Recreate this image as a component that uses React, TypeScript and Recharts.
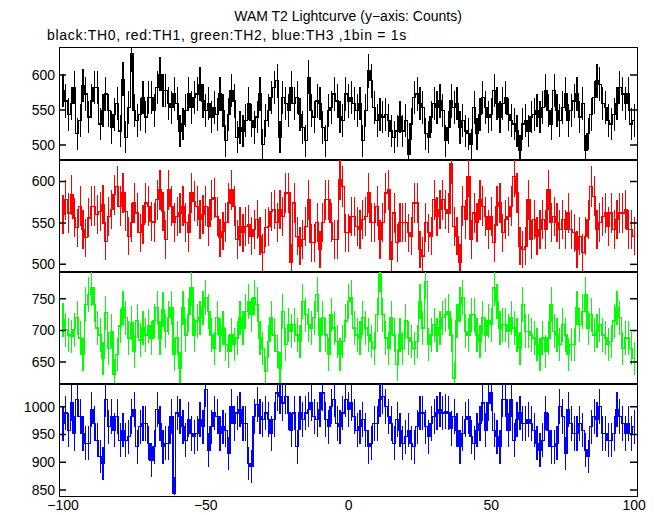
import React from 'react';
import { LineChart, Line, XAxis, YAxis, ErrorBar } from 'recharts';

// counts per 1s bin, t = -100 .. 100
const TH0 = [
  578, 563, 544, 559, 582, 516, 535, 585, 573, 540, 563, 582, 582, 530, 549, 573, 549, 525, 544, 559,
  520, 594, 511, 554, 630, 549, 535, 544, 568, 540, 568, 568, 549, 582, 601, 578, 578, 559, 554, 573,
  559, 520, 530, 549, 573, 554, 568, 573, 587, 563, 549, 559, 540, 554, 544, 573, 549, 506, 544, 578,
  563, 511, 525, 520, 535, 559,
  535, 525, 540, 573, 501, 535, 549, 568, 582, 592, 511, 568, 559, 549, 582, 559, 568, 544, 525, 506,
  597, 549, 540, 563, 559, 525, 506, 549, 554, 573, 563, 540, 535, 573, 563, 568, 559, 549, 559, 506,
  549, 606, 592, 554, 535, 544, 540, 544, 535, 520, 511, 520, 540, 520, 535, 487, 530, 568, 573, 559,
  554, 516, 511, 540, 559, 554, 563, 549,
  506, 525, 563, 554, 559, 525, 535, 520, 516, 501, 554, 516, 544, 568, 554, 540, 544, 578, 559, 540,
  559, 568, 544, 535, 530, 520, 492, 530, 535, 520, 540, 544, 549, 540, 554, 578, 549, 530, 578, 549,
  535, 554, 573, 535, 549, 563, 573, 540, 559, 492, 516, 544, 568, 592, 587, 559, 554, 535, 530, 544,
  559, 582, 573, 559, 573, 530, 535,
];

const TH1 = [
  560, 578, 562, 584, 556, 544, 570, 542, 532, 556, 570, 570, 560, 564, 572, 528, 558, 566, 584, 594,
  570, 586, 564, 534, 550, 574, 562, 538, 548, 574, 570, 552, 550, 578, 590, 564, 530, 590, 570, 550,
  558, 562, 570, 550, 538, 586, 576, 570, 554, 560, 570, 546, 578, 580, 558, 532, 540, 550, 574, 590,
  570, 530, 546, 538, 546, 548, 534,
  542, 554, 534, 514, 544, 546, 564, 566, 550, 566, 558, 586, 586, 502, 574, 534, 522, 530, 546, 578,
  526, 526, 550, 518, 550, 578, 578, 550, 530, 530, 602, 594, 538, 538, 558, 558, 546, 542, 554, 558,
  586, 550, 550, 570, 530, 550, 586, 590, 506, 562, 526, 550, 550, 550, 538, 534, 574, 574, 518, 510,
  550, 538, 534, 578, 558, 566, 578,
  566, 562, 622, 546, 534, 502, 570, 554, 606, 530, 562, 550, 578, 570, 558, 542, 558, 526, 570, 574,
  538, 554, 558, 570, 606, 586, 522, 518, 522, 578, 530, 554, 534, 542, 554, 542, 590, 550, 558, 550,
  542, 554, 542, 562, 542, 538, 518, 534, 514, 534, 554, 594, 582, 542, 550, 558, 562, 546, 562, 542,
  554, 562, 562, 566, 542, 542, 534,
];

const TH2 = [
  717, 701, 693, 691, 701, 720, 688, 662, 741, 757, 767, 741, 704, 693, 656, 728, 672, 699, 630, 662,
  707, 736, 720, 688, 712, 667, 715, 685, 704, 693, 707, 688, 715, 736, 688, 733, 699, 720, 736, 662,
  688, 640, 736, 693, 725, 767, 693, 715, 720, 736, 752, 730, 693, 672, 720, 693, 704, 678, 667, 693,
  678, 688, 720, 704, 730, 746, 725,
  752, 741, 688, 672, 635, 683, 720, 693, 667, 640, 730, 678, 709, 699, 709, 693, 683, 746, 725, 709,
  704, 720, 757, 693, 720, 693, 662, 725, 704, 683, 662, 683, 715, 746, 752, 704, 693, 688, 720, 704,
  693, 683, 672, 725, 789, 725, 688, 672, 720, 693, 646, 693, 672, 715, 688, 683, 672, 683, 746, 704,
  778, 678, 693, 709, 693, 704, 720,
  725, 730, 693, 625, 715, 741, 752, 699, 693, 725, 725, 693, 683, 720, 693, 715, 709, 767, 746, 704,
  709, 709, 699, 720, 704, 693, 672, 741, 699, 699, 693, 688, 678, 662, 688, 667, 688, 741, 699, 693,
  678, 709, 693, 662, 678, 678, 736, 709, 730, 757, 704, 725, 693, 699, 709, 693, 688, 678, 683, 715,
  736, 720, 672, 688, 688, 672, 656,
];

const TH3 = [
  970, 989, 958, 1007, 952, 1013, 983, 952, 934, 934, 995, 970, 940, 910, 898, 1013, 964, 983, 958, 983,
  940, 958, 940, 946, 983, 995, 928, 964, 970, 970, 934, 904, 928, 995, 970, 928, 934, 934, 983, 844,
  989, 983, 964, 940, 977, 952, 946, 952, 977, 964, 1031, 922, 964, 989, 983, 952, 964, 958, 916, 1001,
  970, 989, 995, 970, 970, 898, 892,
  983, 1004, 983, 977, 989, 977, 952, 977, 1025, 1019, 1007, 1019, 989, 958, 989, 928, 989, 977, 989, 995,
  1007, 983, 977, 995, 1025, 977, 964, 1001, 1013, 970, 964, 989, 1013, 995, 1007, 983, 958, 964, 977, 958,
  928, 934, 970, 970, 1013, 1019, 1001, 983, 970, 934, 977, 958, 934, 946, 958, 934, 928, 964, 989, 989,
  964, 946, 970, 983, 989, 995, 989,
  992, 989, 961, 983, 958, 928, 952, 977, 983, 946, 934, 958, 970, 1007, 958, 1007, 1025, 958, 946, 928,
  1013, 1013, 958, 1013, 940, 977, 989, 970, 970, 977, 970, 958, 934, 922, 940, 989, 958, 928, 928, 934,
  1001, 983, 916, 995, 970, 952, 952, 970, 958, 922, 910, 964, 983, 977, 1001, 952, 952, 940, 940, 952,
  995, 983, 970, 952, 970, 952, 964,
];

const TIME = Array.from({ length: 201 }, (_, i) => i - 100);
const X_TICKS = [-100, -90, -80, -70, -60, -50, -40, -30, -20, -10, 0, 10, 20, 30, 40, 50, 60, 70, 80, 90, 100];
const X_DOMAIN = [-101.4, 101];

const W = 662;
const PLOT_LEFT = 59;
const PLOT_RIGHT = 637;
const PLOT_W = PLOT_RIGHT - PLOT_LEFT;
const PANEL_TOP = 47;
const PANEL_H = 112;
const LABEL_H = 20;
const FONT = '"Liberation Sans", Arial, sans-serif';

const panels = [
  { key: 'th0', values: TH0, color: '#000000', domain: [480, 640], yTicks: [500, 550, 600] },
  { key: 'th1', values: TH1, color: '#ff0000', domain: [492, 627], yTicks: [500, 550, 600] },
  { key: 'th2', values: TH2, color: '#00ff00', domain: [617, 794], yTicks: [650, 700, 750] },
  { key: 'th3', values: TH3, color: '#0000ff', domain: [841, 1043], yTicks: [850, 900, 950, 1000] },
];

const fmt = (v: number) => (v < 0 ? '\u2212' + Math.abs(v) : String(v));

// inward ticks at bottom and top of a panel
const XTick = (props: any) => {
  const { x, y, payload } = props;
  const major = payload.value % 50 === 0;
  const len = major ? 7 : 4;
  const sw = major ? 1.5 : 1;
  return (
    <g>
      <line x1={x} x2={x} y1={y} y2={y - len} stroke="#000" strokeWidth={sw} />
      <line x1={x} x2={x} y1={y - PANEL_H} y2={y - PANEL_H + len} stroke="#000" strokeWidth={sw} />
    </g>
  );
};

const XLabel = (props: any) => {
  const { x, payload } = props;
  if (payload.value % 50 !== 0) return <g />;
  return (
    <text x={x} y={15} textAnchor="middle" fontSize={14} fontFamily={FONT} fill="#000">
      {fmt(payload.value)}
    </text>
  );
};

const YTick = (props: any) => {
  const { x, y, payload } = props;
  return (
    <g>
      <line x1={x} x2={x + 7} y1={y} y2={y} stroke="#000" strokeWidth={1.5} />
      <line x1={x + PLOT_W} x2={x + PLOT_W - 7} y1={y} y2={y} stroke="#000" strokeWidth={1.5} />
      <text x={x - 4} y={y} dy="0.35em" textAnchor="end" fontSize={14} fontFamily={FONT} fill="#000">
        {payload.value}
      </text>
    </g>
  );
};

// keep error bars inside the frame, let the y labels on the left run a bit past it
const PANEL_CLIP = `polygon(0 -12px, ${PLOT_LEFT}px -12px, ${PLOT_LEFT}px 0, ${W}px 0, ${W}px ${PANEL_H}px, ${PLOT_LEFT}px ${PANEL_H}px, ${PLOT_LEFT}px ${PANEL_H + 12}px, 0 ${PANEL_H + 12}px)`;

const Panel = ({ values, color, domain, yTicks, top }: any) => {
  const rows = TIME.map((t, i) => ({ t, v: values[i], e: Math.sqrt(values[i]) }));
  return (
    <div style={{ position: 'absolute', left: 0, top, width: W, height: PANEL_H }}>
      <div style={{ position: 'absolute', left: 0, top: 0, width: W, height: PANEL_H, clipPath: PANEL_CLIP }}>
        <LineChart width={W} height={PANEL_H} data={rows} margin={{ top: 0, right: W - PLOT_RIGHT, bottom: 0, left: 0 }}>
          <XAxis
            dataKey="t"
            type="number"
            domain={X_DOMAIN}
            ticks={X_TICKS}
            interval={0}
            allowDataOverflow
            height={0}
            axisLine={false}
            tickLine={false}
            tickSize={0}
            tickMargin={0}
            tick={(p: any) => <XTick {...p} />}
          />
          <YAxis
            type="number"
            domain={domain}
            ticks={yTicks}
            interval={0}
            allowDataOverflow
            width={PLOT_LEFT}
            axisLine={false}
            tickLine={false}
            tickSize={0}
            tickMargin={0}
            tick={(p: any) => <YTick {...p} />}
          />
          <Line
            dataKey="v"
            type="step"
            stroke={color}
            strokeWidth={1.2}
            dot={false}
            activeDot={false}
            isAnimationActive={false}
          >
            <ErrorBar dataKey="e" width={0} stroke={color} strokeWidth={1.2} direction="y" isAnimationActive={false} />
          </Line>
        </LineChart>
      </div>
      <div
        style={{
          position: 'absolute',
          left: PLOT_LEFT,
          top: 0,
          width: PLOT_W + 1,
          height: PANEL_H + 2,
          border: '1px solid #000',
          boxSizing: 'border-box',
          pointerEvents: 'none',
        }}
      />
    </div>
  );
};

// tick labels of the shared time axis under the last panel
const TimeAxis = ({ top }: any) => {
  const rows = TIME.map((t) => ({ t }));
  return (
    <div style={{ position: 'absolute', left: 0, top, width: W, height: LABEL_H }}>
      <LineChart width={W} height={LABEL_H} data={rows} margin={{ top: 0, right: W - PLOT_RIGHT, bottom: 0, left: PLOT_LEFT }}>
        <XAxis
          dataKey="t"
          type="number"
          domain={X_DOMAIN}
          ticks={X_TICKS}
          interval={0}
          allowDataOverflow
          height={LABEL_H - 1}
          axisLine={false}
          tickLine={false}
          tickSize={0}
          tickMargin={0}
          tick={(p: any) => <XLabel {...p} />}
        />
        <YAxis hide domain={[0, 1]} />
      </LineChart>
    </div>
  );
};

export default function App() {
  return (
    <div style={{ position: 'absolute', left: 0, top: 0, width: W, height: 515, background: '#fff', fontFamily: FONT, overflow: 'hidden' }}>
      <style>{'html, body { overflow: hidden; } .recharts-surface { overflow: visible; } .recharts-line-curve, .recharts-errorBar line, .recharts-errorBars line { shape-rendering: crispEdges; }'}</style>
      <div style={{ position: 'absolute', left: PLOT_LEFT, width: PLOT_W, top: 8, textAlign: 'center', fontSize: 14, lineHeight: '16px' }}>
        WAM T2 Lightcurve (y{'\u2212'}axis: Counts)
      </div>
      <div style={{ position: 'absolute', left: 47, top: 27, fontSize: 14, lineHeight: '16px', whiteSpace: 'nowrap', letterSpacing: '0.7px' }}>
        black:TH0, red:TH1, green:TH2, blue:TH3 ,1bin = 1s
      </div>
      {panels.map((p, i) => (
        <Panel
          key={p.key}
          values={p.values}
          color={p.color}
          domain={p.domain}
          yTicks={p.yTicks}
          top={PANEL_TOP + i * PANEL_H}
        />
      ))}
      <TimeAxis top={PANEL_TOP + panels.length * PANEL_H} />
    </div>
  );
}
